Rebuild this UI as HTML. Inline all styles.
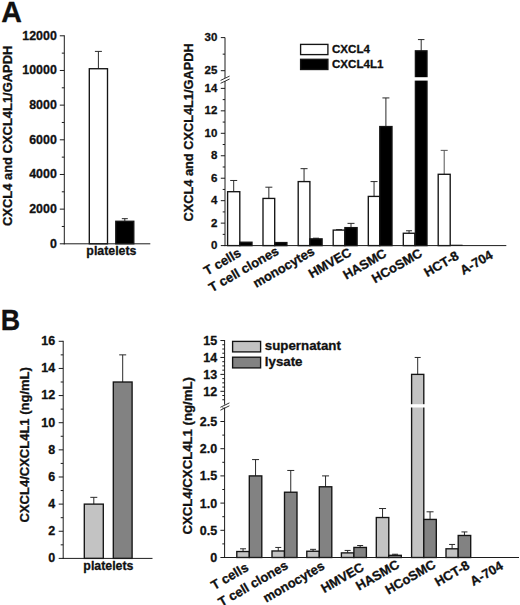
<!DOCTYPE html>
<html lang="en">
<head>
<meta charset="utf-8">
<title>CXCL4 and CXCL4L1 expression</title>
<style>
html,body{margin:0;padding:0;background:#fff;}
body{width:520px;height:605px;overflow:hidden;}
svg{display:block;}
svg text{font-family:"Liberation Sans", Arial, Helvetica, sans-serif;font-weight:bold;fill:#111;stroke:#111;stroke-width:0.3px;stroke-linejoin:round;}
</style>
</head>
<body>
<svg width="520" height="605" viewBox="0 0 520 605">
<rect x="0" y="0" width="520" height="605" fill="#ffffff"/>
<text x="1.30" y="22.20" font-size="28.6" text-anchor="start" stroke-width="0.5">A</text>
<text transform="translate(0.7 329.9) scale(0.9 1)" x="0" y="0" font-size="29.8" stroke-width="0.5">B</text>
<line x1="98.40" y1="51.40" x2="98.40" y2="68.73" stroke="#2a2a2a" stroke-width="1.0"/>
<line x1="94.90" y1="51.40" x2="101.90" y2="51.40" stroke="#2a2a2a" stroke-width="1.0"/>
<rect x="89.30" y="68.73" width="18.20" height="175.07" fill="#ffffff" stroke="#141414" stroke-width="1.35"/>
<line x1="124.80" y1="218.67" x2="124.80" y2="221.27" stroke="#2a2a2a" stroke-width="1.0"/>
<line x1="121.80" y1="218.67" x2="127.80" y2="218.67" stroke="#2a2a2a" stroke-width="1.0"/>
<rect x="115.80" y="221.27" width="18.00" height="22.53" fill="#000000" stroke="#141414" stroke-width="1.35"/>
<line x1="64.30" y1="35.30" x2="64.30" y2="244.30" stroke="#1c1c1c" stroke-width="1.0"/>
<line x1="63.80" y1="243.80" x2="150.30" y2="243.80" stroke="#1c1c1c" stroke-width="1.0"/>
<line x1="59.80" y1="243.80" x2="64.30" y2="243.80" stroke="#1c1c1c" stroke-width="1.0"/>
<text x="56.80" y="247.50" font-size="12.4" text-anchor="end">0</text>
<line x1="59.80" y1="209.13" x2="64.30" y2="209.13" stroke="#1c1c1c" stroke-width="1.0"/>
<text x="56.80" y="212.83" font-size="12.4" text-anchor="end">2000</text>
<line x1="59.80" y1="174.47" x2="64.30" y2="174.47" stroke="#1c1c1c" stroke-width="1.0"/>
<text x="56.80" y="178.17" font-size="12.4" text-anchor="end">4000</text>
<line x1="59.80" y1="139.80" x2="64.30" y2="139.80" stroke="#1c1c1c" stroke-width="1.0"/>
<text x="56.80" y="143.50" font-size="12.4" text-anchor="end">6000</text>
<line x1="59.80" y1="105.13" x2="64.30" y2="105.13" stroke="#1c1c1c" stroke-width="1.0"/>
<text x="56.80" y="108.83" font-size="12.4" text-anchor="end">8000</text>
<line x1="59.80" y1="70.47" x2="64.30" y2="70.47" stroke="#1c1c1c" stroke-width="1.0"/>
<text x="56.80" y="74.17" font-size="12.4" text-anchor="end">10000</text>
<line x1="59.80" y1="35.80" x2="64.30" y2="35.80" stroke="#1c1c1c" stroke-width="1.0"/>
<text x="56.80" y="39.50" font-size="12.4" text-anchor="end">12000</text>
<line x1="61.80" y1="226.47" x2="64.30" y2="226.47" stroke="#1c1c1c" stroke-width="1.0"/>
<line x1="61.80" y1="191.80" x2="64.30" y2="191.80" stroke="#1c1c1c" stroke-width="1.0"/>
<line x1="61.80" y1="157.13" x2="64.30" y2="157.13" stroke="#1c1c1c" stroke-width="1.0"/>
<line x1="61.80" y1="122.47" x2="64.30" y2="122.47" stroke="#1c1c1c" stroke-width="1.0"/>
<line x1="61.80" y1="87.80" x2="64.30" y2="87.80" stroke="#1c1c1c" stroke-width="1.0"/>
<line x1="61.80" y1="53.13" x2="64.30" y2="53.13" stroke="#1c1c1c" stroke-width="1.0"/>
<text x="111.40" y="254.70" font-size="12.35" text-anchor="middle">platelets</text>
<text x="12.30" y="135.80" font-size="12.95" text-anchor="middle" transform="rotate(-90 12.30 135.80)">CXCL4 and CXCL4L1/GAPDH</text>
<line x1="233.70" y1="180.47" x2="233.70" y2="191.70" stroke="#2a2a2a" stroke-width="1.0"/>
<line x1="230.20" y1="180.47" x2="237.20" y2="180.47" stroke="#2a2a2a" stroke-width="1.0"/>
<rect x="227.60" y="191.70" width="12.20" height="53.90" fill="#ffffff" stroke="#141414" stroke-width="1.35"/>
<rect x="239.80" y="242.23" width="12.20" height="3.37" fill="#000000" stroke="#141414" stroke-width="1.35"/>
<line x1="268.85" y1="187.20" x2="268.85" y2="198.43" stroke="#2a2a2a" stroke-width="1.0"/>
<line x1="265.35" y1="187.20" x2="272.35" y2="187.20" stroke="#2a2a2a" stroke-width="1.0"/>
<rect x="263.00" y="198.43" width="11.70" height="47.17" fill="#ffffff" stroke="#141414" stroke-width="1.35"/>
<rect x="274.70" y="242.57" width="12.20" height="3.03" fill="#000000" stroke="#141414" stroke-width="1.35"/>
<line x1="304.05" y1="168.67" x2="304.05" y2="181.59" stroke="#2a2a2a" stroke-width="1.0"/>
<line x1="300.55" y1="168.67" x2="307.55" y2="168.67" stroke="#2a2a2a" stroke-width="1.0"/>
<rect x="298.20" y="181.59" width="11.70" height="64.01" fill="#ffffff" stroke="#141414" stroke-width="1.35"/>
<line x1="316.00" y1="238.19" x2="316.00" y2="238.86" stroke="#2a2a2a" stroke-width="1.0"/>
<line x1="313.00" y1="238.19" x2="319.00" y2="238.19" stroke="#2a2a2a" stroke-width="1.0"/>
<rect x="309.90" y="238.86" width="12.20" height="6.74" fill="#000000" stroke="#141414" stroke-width="1.35"/>
<line x1="339.05" y1="229.65" x2="339.05" y2="230.10" stroke="#2a2a2a" stroke-width="1.0"/>
<line x1="336.05" y1="229.65" x2="342.05" y2="229.65" stroke="#2a2a2a" stroke-width="1.0"/>
<rect x="333.20" y="230.10" width="11.70" height="15.50" fill="#ffffff" stroke="#141414" stroke-width="1.35"/>
<line x1="351.00" y1="223.36" x2="351.00" y2="227.63" stroke="#2a2a2a" stroke-width="1.0"/>
<line x1="347.50" y1="223.36" x2="354.50" y2="223.36" stroke="#2a2a2a" stroke-width="1.0"/>
<rect x="344.90" y="227.63" width="12.20" height="17.97" fill="#000000" stroke="#141414" stroke-width="1.35"/>
<line x1="374.05" y1="181.59" x2="374.05" y2="196.41" stroke="#2a2a2a" stroke-width="1.0"/>
<line x1="370.55" y1="181.59" x2="377.55" y2="181.59" stroke="#2a2a2a" stroke-width="1.0"/>
<rect x="368.30" y="196.41" width="11.50" height="49.19" fill="#ffffff" stroke="#141414" stroke-width="1.35"/>
<line x1="385.90" y1="97.93" x2="385.90" y2="126.56" stroke="#2a2a2a" stroke-width="1.0"/>
<line x1="382.40" y1="97.93" x2="389.40" y2="97.93" stroke="#2a2a2a" stroke-width="1.0"/>
<rect x="379.80" y="126.56" width="12.20" height="119.04" fill="#000000" stroke="#141414" stroke-width="1.35"/>
<line x1="409.05" y1="230.78" x2="409.05" y2="233.25" stroke="#2a2a2a" stroke-width="1.0"/>
<line x1="406.05" y1="230.78" x2="412.05" y2="230.78" stroke="#2a2a2a" stroke-width="1.0"/>
<rect x="403.30" y="233.25" width="11.50" height="12.35" fill="#ffffff" stroke="#141414" stroke-width="1.35"/>
<line x1="421.20" y1="39.59" x2="421.20" y2="50.84" stroke="#2a2a2a" stroke-width="1.0"/>
<line x1="417.95" y1="39.59" x2="424.45" y2="39.59" stroke="#2a2a2a" stroke-width="1.0"/>
<rect x="415.40" y="50.84" width="11.60" height="194.76" fill="#000000" stroke="#141414" stroke-width="1.35"/>
<rect x="413.50" y="77.2" width="15.20" height="3.4" fill="#fff"/>
<line x1="444.20" y1="150.37" x2="444.20" y2="174.29" stroke="#555" stroke-width="1.0"/>
<line x1="440.70" y1="150.37" x2="447.70" y2="150.37" stroke="#555" stroke-width="1.0"/>
<rect x="438.20" y="174.29" width="12.00" height="71.31" fill="#ffffff" stroke="#141414" stroke-width="1.35"/>
<line x1="450.40" y1="245.30" x2="462.60" y2="245.30" stroke="#1c1c1c" stroke-width="1.2"/>
<line x1="225.00" y1="37.50" x2="225.00" y2="246.10" stroke="#1c1c1c" stroke-width="1.0"/>
<line x1="224.50" y1="245.60" x2="506.30" y2="245.60" stroke="#1c1c1c" stroke-width="1.0"/>
<line x1="220.80" y1="245.60" x2="225.00" y2="245.60" stroke="#1c1c1c" stroke-width="1.0"/>
<text x="217.30" y="249.00" font-size="11.5" text-anchor="end">0</text>
<line x1="220.80" y1="223.14" x2="225.00" y2="223.14" stroke="#1c1c1c" stroke-width="1.0"/>
<text x="217.30" y="226.54" font-size="11.5" text-anchor="end">2</text>
<line x1="220.80" y1="200.68" x2="225.00" y2="200.68" stroke="#1c1c1c" stroke-width="1.0"/>
<text x="217.30" y="204.08" font-size="11.5" text-anchor="end">4</text>
<line x1="220.80" y1="178.22" x2="225.00" y2="178.22" stroke="#1c1c1c" stroke-width="1.0"/>
<text x="217.30" y="181.62" font-size="11.5" text-anchor="end">6</text>
<line x1="220.80" y1="155.76" x2="225.00" y2="155.76" stroke="#1c1c1c" stroke-width="1.0"/>
<text x="217.30" y="159.16" font-size="11.5" text-anchor="end">8</text>
<line x1="220.80" y1="133.30" x2="225.00" y2="133.30" stroke="#1c1c1c" stroke-width="1.0"/>
<text x="217.30" y="136.70" font-size="11.5" text-anchor="end">10</text>
<line x1="220.80" y1="110.84" x2="225.00" y2="110.84" stroke="#1c1c1c" stroke-width="1.0"/>
<text x="217.30" y="114.24" font-size="11.5" text-anchor="end">12</text>
<line x1="220.80" y1="88.38" x2="225.00" y2="88.38" stroke="#1c1c1c" stroke-width="1.0"/>
<text x="217.30" y="91.78" font-size="11.5" text-anchor="end">14</text>
<line x1="222.70" y1="234.37" x2="225.00" y2="234.37" stroke="#1c1c1c" stroke-width="1.0"/>
<line x1="222.70" y1="211.91" x2="225.00" y2="211.91" stroke="#1c1c1c" stroke-width="1.0"/>
<line x1="222.70" y1="189.45" x2="225.00" y2="189.45" stroke="#1c1c1c" stroke-width="1.0"/>
<line x1="222.70" y1="166.99" x2="225.00" y2="166.99" stroke="#1c1c1c" stroke-width="1.0"/>
<line x1="222.70" y1="144.53" x2="225.00" y2="144.53" stroke="#1c1c1c" stroke-width="1.0"/>
<line x1="222.70" y1="122.07" x2="225.00" y2="122.07" stroke="#1c1c1c" stroke-width="1.0"/>
<line x1="222.70" y1="99.61" x2="225.00" y2="99.61" stroke="#1c1c1c" stroke-width="1.0"/>
<line x1="220.80" y1="70.70" x2="225.00" y2="70.70" stroke="#1c1c1c" stroke-width="1.0"/>
<text x="217.30" y="74.10" font-size="11.5" text-anchor="end">25</text>
<line x1="220.80" y1="37.60" x2="225.00" y2="37.60" stroke="#1c1c1c" stroke-width="1.0"/>
<text x="217.30" y="41.00" font-size="11.5" text-anchor="end">30</text>
<line x1="222.70" y1="54.15" x2="225.00" y2="54.15" stroke="#1c1c1c" stroke-width="1.0"/>
<rect x="223.0" y="78.0" width="4" height="3.0" fill="#fff"/>
<line x1="220.60" y1="80.40" x2="229.60" y2="76.10" stroke="#1c1c1c" stroke-width="0.9"/>
<line x1="220.60" y1="83.30" x2="229.60" y2="79.00" stroke="#1c1c1c" stroke-width="0.9"/>
<rect x="300.60" y="44.40" width="27.30" height="10.20" fill="#ffffff" stroke="#141414" stroke-width="1.35"/>
<rect x="300.60" y="59.30" width="27.30" height="10.20" fill="#000000" stroke="#141414" stroke-width="1.35"/>
<text x="332.00" y="53.20" font-size="11.6" text-anchor="start">CXCL4</text>
<text x="332.00" y="68.00" font-size="11.6" text-anchor="start">CXCL4L1</text>
<text x="192.60" y="132.40" font-size="12.78" text-anchor="middle" transform="rotate(-90 192.60 132.40)">CXCL4 and CXCL4L1/GAPDH</text>
<text x="242.10" y="255.50" font-size="13" text-anchor="end" transform="rotate(-30 242.10 255.50)">T cells</text>
<text x="279.70" y="253.50" font-size="13" text-anchor="end" transform="rotate(-30 279.70 253.50)">T cell clones</text>
<text x="315.60" y="253.80" font-size="13" text-anchor="end" transform="rotate(-30 315.60 253.80)">monocytes</text>
<text x="352.40" y="255.00" font-size="13" text-anchor="end" transform="rotate(-30 352.40 255.00)">HMVEC</text>
<text x="387.50" y="256.00" font-size="13" text-anchor="end" transform="rotate(-30 387.50 256.00)">HASMC</text>
<text x="423.20" y="255.70" font-size="13" text-anchor="end" transform="rotate(-30 423.20 255.70)">HCoSMC</text>
<text x="459.70" y="258.50" font-size="13" text-anchor="end" transform="rotate(-30 459.70 258.50)">HCT-8</text>
<text x="493.90" y="257.50" font-size="13" text-anchor="end" transform="rotate(-30 493.90 257.50)">A-704</text>
<line x1="93.80" y1="497.34" x2="93.80" y2="504.12" stroke="#2a2a2a" stroke-width="1.0"/>
<line x1="90.30" y1="497.34" x2="97.30" y2="497.34" stroke="#2a2a2a" stroke-width="1.0"/>
<rect x="84.30" y="504.12" width="19.00" height="54.27" fill="#c3c3c3" stroke="#141414" stroke-width="1.35"/>
<line x1="122.70" y1="354.87" x2="122.70" y2="382.01" stroke="#2a2a2a" stroke-width="1.0"/>
<line x1="119.20" y1="354.87" x2="126.20" y2="354.87" stroke="#2a2a2a" stroke-width="1.0"/>
<rect x="113.30" y="382.01" width="18.80" height="176.39" fill="#828282" stroke="#141414" stroke-width="1.35"/>
<line x1="63.20" y1="340.80" x2="63.20" y2="558.90" stroke="#1c1c1c" stroke-width="1.0"/>
<line x1="62.70" y1="558.40" x2="152.50" y2="558.40" stroke="#1c1c1c" stroke-width="1.0"/>
<line x1="58.70" y1="558.40" x2="63.20" y2="558.40" stroke="#1c1c1c" stroke-width="1.0"/>
<text x="55.20" y="562.30" font-size="12.5" text-anchor="end">0</text>
<line x1="58.70" y1="531.26" x2="63.20" y2="531.26" stroke="#1c1c1c" stroke-width="1.0"/>
<text x="55.20" y="535.16" font-size="12.5" text-anchor="end">2</text>
<line x1="58.70" y1="504.12" x2="63.20" y2="504.12" stroke="#1c1c1c" stroke-width="1.0"/>
<text x="55.20" y="508.02" font-size="12.5" text-anchor="end">4</text>
<line x1="58.70" y1="476.99" x2="63.20" y2="476.99" stroke="#1c1c1c" stroke-width="1.0"/>
<text x="55.20" y="480.89" font-size="12.5" text-anchor="end">6</text>
<line x1="58.70" y1="449.85" x2="63.20" y2="449.85" stroke="#1c1c1c" stroke-width="1.0"/>
<text x="55.20" y="453.75" font-size="12.5" text-anchor="end">8</text>
<line x1="58.70" y1="422.71" x2="63.20" y2="422.71" stroke="#1c1c1c" stroke-width="1.0"/>
<text x="55.20" y="426.61" font-size="12.5" text-anchor="end">10</text>
<line x1="58.70" y1="395.57" x2="63.20" y2="395.57" stroke="#1c1c1c" stroke-width="1.0"/>
<text x="55.20" y="399.47" font-size="12.5" text-anchor="end">12</text>
<line x1="58.70" y1="368.44" x2="63.20" y2="368.44" stroke="#1c1c1c" stroke-width="1.0"/>
<text x="55.20" y="372.34" font-size="12.5" text-anchor="end">14</text>
<line x1="58.70" y1="341.30" x2="63.20" y2="341.30" stroke="#1c1c1c" stroke-width="1.0"/>
<text x="55.20" y="345.20" font-size="12.5" text-anchor="end">16</text>
<line x1="60.70" y1="544.83" x2="63.20" y2="544.83" stroke="#1c1c1c" stroke-width="1.0"/>
<line x1="60.70" y1="517.69" x2="63.20" y2="517.69" stroke="#1c1c1c" stroke-width="1.0"/>
<line x1="60.70" y1="490.56" x2="63.20" y2="490.56" stroke="#1c1c1c" stroke-width="1.0"/>
<line x1="60.70" y1="463.42" x2="63.20" y2="463.42" stroke="#1c1c1c" stroke-width="1.0"/>
<line x1="60.70" y1="436.28" x2="63.20" y2="436.28" stroke="#1c1c1c" stroke-width="1.0"/>
<line x1="60.70" y1="409.14" x2="63.20" y2="409.14" stroke="#1c1c1c" stroke-width="1.0"/>
<line x1="60.70" y1="382.01" x2="63.20" y2="382.01" stroke="#1c1c1c" stroke-width="1.0"/>
<line x1="60.70" y1="354.87" x2="63.20" y2="354.87" stroke="#1c1c1c" stroke-width="1.0"/>
<text x="108.40" y="569.70" font-size="12.35" text-anchor="middle">platelets</text>
<text x="29.50" y="444.80" font-size="13" text-anchor="middle" transform="rotate(-90 29.50 444.80)">CXCL4/CXCL4L1 (ng/mL)</text>
<line x1="243.05" y1="548.80" x2="243.05" y2="551.52" stroke="#2a2a2a" stroke-width="1.0"/>
<line x1="240.05" y1="548.80" x2="246.05" y2="548.80" stroke="#2a2a2a" stroke-width="1.0"/>
<rect x="236.80" y="551.52" width="12.50" height="5.98" fill="#c3c3c3" stroke="#141414" stroke-width="1.35"/>
<line x1="255.55" y1="459.58" x2="255.55" y2="475.90" stroke="#2a2a2a" stroke-width="1.0"/>
<line x1="252.05" y1="459.58" x2="259.05" y2="459.58" stroke="#2a2a2a" stroke-width="1.0"/>
<rect x="249.30" y="475.90" width="12.50" height="81.60" fill="#828282" stroke="#141414" stroke-width="1.35"/>
<line x1="278.25" y1="547.44" x2="278.25" y2="550.97" stroke="#2a2a2a" stroke-width="1.0"/>
<line x1="275.25" y1="547.44" x2="281.25" y2="547.44" stroke="#2a2a2a" stroke-width="1.0"/>
<rect x="272.00" y="550.97" width="12.50" height="6.53" fill="#c3c3c3" stroke="#141414" stroke-width="1.35"/>
<line x1="290.75" y1="470.46" x2="290.75" y2="492.22" stroke="#2a2a2a" stroke-width="1.0"/>
<line x1="287.25" y1="470.46" x2="294.25" y2="470.46" stroke="#2a2a2a" stroke-width="1.0"/>
<rect x="284.50" y="492.22" width="12.50" height="65.28" fill="#828282" stroke="#141414" stroke-width="1.35"/>
<line x1="313.05" y1="549.34" x2="313.05" y2="551.24" stroke="#2a2a2a" stroke-width="1.0"/>
<line x1="310.05" y1="549.34" x2="316.05" y2="549.34" stroke="#2a2a2a" stroke-width="1.0"/>
<rect x="306.80" y="551.24" width="12.50" height="6.26" fill="#c3c3c3" stroke="#141414" stroke-width="1.35"/>
<line x1="325.55" y1="475.90" x2="325.55" y2="486.78" stroke="#2a2a2a" stroke-width="1.0"/>
<line x1="322.05" y1="475.90" x2="329.05" y2="475.90" stroke="#2a2a2a" stroke-width="1.0"/>
<rect x="319.30" y="486.78" width="12.50" height="70.72" fill="#828282" stroke="#141414" stroke-width="1.35"/>
<line x1="347.65" y1="550.43" x2="347.65" y2="552.88" stroke="#2a2a2a" stroke-width="1.0"/>
<line x1="344.65" y1="550.43" x2="350.65" y2="550.43" stroke="#2a2a2a" stroke-width="1.0"/>
<rect x="341.40" y="552.88" width="12.50" height="4.62" fill="#c3c3c3" stroke="#141414" stroke-width="1.35"/>
<line x1="360.15" y1="545.53" x2="360.15" y2="547.44" stroke="#2a2a2a" stroke-width="1.0"/>
<line x1="357.15" y1="545.53" x2="363.15" y2="545.53" stroke="#2a2a2a" stroke-width="1.0"/>
<rect x="353.90" y="547.44" width="12.50" height="10.06" fill="#828282" stroke="#141414" stroke-width="1.35"/>
<line x1="382.55" y1="508.54" x2="382.55" y2="517.52" stroke="#2a2a2a" stroke-width="1.0"/>
<line x1="379.05" y1="508.54" x2="386.05" y2="508.54" stroke="#2a2a2a" stroke-width="1.0"/>
<rect x="376.30" y="517.52" width="12.50" height="39.98" fill="#c3c3c3" stroke="#141414" stroke-width="1.35"/>
<line x1="395.05" y1="554.24" x2="395.05" y2="555.32" stroke="#2a2a2a" stroke-width="1.0"/>
<line x1="392.05" y1="554.24" x2="398.05" y2="554.24" stroke="#2a2a2a" stroke-width="1.0"/>
<rect x="388.80" y="555.32" width="12.50" height="2.18" fill="#828282" stroke="#141414" stroke-width="1.35"/>
<line x1="417.70" y1="357.46" x2="417.70" y2="374.38" stroke="#2a2a2a" stroke-width="1.0"/>
<line x1="414.70" y1="357.46" x2="420.70" y2="357.46" stroke="#2a2a2a" stroke-width="1.0"/>
<rect x="411.60" y="374.38" width="12.20" height="183.12" fill="#c3c3c3" stroke="#141414" stroke-width="1.35"/>
<rect x="410.10" y="404.2" width="15.50" height="3.3" fill="#fff"/>
<line x1="430.05" y1="511.80" x2="430.05" y2="519.42" stroke="#2a2a2a" stroke-width="1.0"/>
<line x1="426.55" y1="511.80" x2="433.55" y2="511.80" stroke="#2a2a2a" stroke-width="1.0"/>
<rect x="423.80" y="519.42" width="12.50" height="38.08" fill="#828282" stroke="#141414" stroke-width="1.35"/>
<line x1="452.10" y1="544.44" x2="452.10" y2="548.80" stroke="#2a2a2a" stroke-width="1.0"/>
<line x1="449.10" y1="544.44" x2="455.10" y2="544.44" stroke="#2a2a2a" stroke-width="1.0"/>
<rect x="446.00" y="548.80" width="12.20" height="8.70" fill="#c3c3c3" stroke="#141414" stroke-width="1.35"/>
<line x1="464.45" y1="531.93" x2="464.45" y2="535.47" stroke="#2a2a2a" stroke-width="1.0"/>
<line x1="461.45" y1="531.93" x2="467.45" y2="531.93" stroke="#2a2a2a" stroke-width="1.0"/>
<rect x="458.20" y="535.47" width="12.50" height="22.03" fill="#828282" stroke="#141414" stroke-width="1.35"/>
<line x1="224.60" y1="340.00" x2="224.60" y2="558.00" stroke="#1c1c1c" stroke-width="1.0"/>
<line x1="224.10" y1="557.50" x2="519.00" y2="557.50" stroke="#1c1c1c" stroke-width="1.0"/>
<line x1="220.40" y1="557.50" x2="224.60" y2="557.50" stroke="#1c1c1c" stroke-width="1.0"/>
<text x="217.20" y="561.90" font-size="12.5" text-anchor="end">0</text>
<line x1="220.40" y1="530.30" x2="224.60" y2="530.30" stroke="#1c1c1c" stroke-width="1.0"/>
<text x="217.20" y="534.70" font-size="12.5" text-anchor="end">0.5</text>
<line x1="220.40" y1="503.10" x2="224.60" y2="503.10" stroke="#1c1c1c" stroke-width="1.0"/>
<text x="217.20" y="507.50" font-size="12.5" text-anchor="end">1.0</text>
<line x1="220.40" y1="475.90" x2="224.60" y2="475.90" stroke="#1c1c1c" stroke-width="1.0"/>
<text x="217.20" y="480.30" font-size="12.5" text-anchor="end">1.5</text>
<line x1="220.40" y1="448.70" x2="224.60" y2="448.70" stroke="#1c1c1c" stroke-width="1.0"/>
<text x="217.20" y="453.10" font-size="12.5" text-anchor="end">2.0</text>
<line x1="220.40" y1="421.50" x2="224.60" y2="421.50" stroke="#1c1c1c" stroke-width="1.0"/>
<text x="217.20" y="425.90" font-size="12.5" text-anchor="end">2.5</text>
<line x1="222.30" y1="543.90" x2="224.60" y2="543.90" stroke="#1c1c1c" stroke-width="1.0"/>
<line x1="222.30" y1="516.70" x2="224.60" y2="516.70" stroke="#1c1c1c" stroke-width="1.0"/>
<line x1="222.30" y1="489.50" x2="224.60" y2="489.50" stroke="#1c1c1c" stroke-width="1.0"/>
<line x1="222.30" y1="462.30" x2="224.60" y2="462.30" stroke="#1c1c1c" stroke-width="1.0"/>
<line x1="222.30" y1="435.10" x2="224.60" y2="435.10" stroke="#1c1c1c" stroke-width="1.0"/>
<line x1="222.30" y1="407.90" x2="224.60" y2="407.90" stroke="#1c1c1c" stroke-width="1.0"/>
<line x1="220.40" y1="391.30" x2="224.60" y2="391.30" stroke="#1c1c1c" stroke-width="1.0"/>
<text x="217.20" y="395.70" font-size="12.5" text-anchor="end">12</text>
<line x1="220.40" y1="374.38" x2="224.60" y2="374.38" stroke="#1c1c1c" stroke-width="1.0"/>
<text x="217.20" y="378.78" font-size="12.5" text-anchor="end">13</text>
<line x1="220.40" y1="357.46" x2="224.60" y2="357.46" stroke="#1c1c1c" stroke-width="1.0"/>
<text x="217.20" y="361.86" font-size="12.5" text-anchor="end">14</text>
<line x1="220.40" y1="340.54" x2="224.60" y2="340.54" stroke="#1c1c1c" stroke-width="1.0"/>
<text x="217.20" y="344.94" font-size="12.5" text-anchor="end">15</text>
<line x1="222.30" y1="399.76" x2="224.60" y2="399.76" stroke="#1c1c1c" stroke-width="1.0"/>
<line x1="222.30" y1="395.53" x2="224.60" y2="395.53" stroke="#1c1c1c" stroke-width="1.0"/>
<line x1="222.30" y1="387.07" x2="224.60" y2="387.07" stroke="#1c1c1c" stroke-width="1.0"/>
<line x1="222.30" y1="382.84" x2="224.60" y2="382.84" stroke="#1c1c1c" stroke-width="1.0"/>
<line x1="222.30" y1="378.61" x2="224.60" y2="378.61" stroke="#1c1c1c" stroke-width="1.0"/>
<line x1="222.30" y1="370.15" x2="224.60" y2="370.15" stroke="#1c1c1c" stroke-width="1.0"/>
<line x1="222.30" y1="365.92" x2="224.60" y2="365.92" stroke="#1c1c1c" stroke-width="1.0"/>
<line x1="222.30" y1="361.69" x2="224.60" y2="361.69" stroke="#1c1c1c" stroke-width="1.0"/>
<line x1="222.30" y1="353.23" x2="224.60" y2="353.23" stroke="#1c1c1c" stroke-width="1.0"/>
<line x1="222.30" y1="349.00" x2="224.60" y2="349.00" stroke="#1c1c1c" stroke-width="1.0"/>
<line x1="222.30" y1="344.77" x2="224.60" y2="344.77" stroke="#1c1c1c" stroke-width="1.0"/>
<rect x="222.6" y="404.6" width="4" height="3.0" fill="#fff"/>
<line x1="220.40" y1="407.30" x2="229.40" y2="402.90" stroke="#1c1c1c" stroke-width="0.9"/>
<line x1="220.40" y1="410.20" x2="229.40" y2="405.80" stroke="#1c1c1c" stroke-width="0.9"/>
<rect x="232.60" y="341.40" width="28.00" height="10.50" fill="#c3c3c3" stroke="#141414" stroke-width="1.35"/>
<rect x="232.60" y="357.20" width="28.00" height="10.70" fill="#828282" stroke="#141414" stroke-width="1.35"/>
<text x="264.80" y="350.30" font-size="13.3" text-anchor="start">supernatant</text>
<text x="264.80" y="365.60" font-size="13.3" text-anchor="start">lysate</text>
<text x="192.00" y="455.80" font-size="13.2" text-anchor="middle" transform="rotate(-90 192.00 455.80)">CXCL4/CXCL4L1 (ng/mL)</text>
<text x="249.40" y="570.00" font-size="13" text-anchor="end" transform="rotate(-30 249.40 570.00)">T cells</text>
<text x="289.00" y="568.00" font-size="13" text-anchor="end" transform="rotate(-30 289.00 568.00)">T cell clones</text>
<text x="325.60" y="568.50" font-size="13" text-anchor="end" transform="rotate(-30 325.60 568.50)">monocytes</text>
<text x="364.90" y="569.70" font-size="13" text-anchor="end" transform="rotate(-30 364.90 569.70)">HMVEC</text>
<text x="400.30" y="567.00" font-size="13" text-anchor="end" transform="rotate(-30 400.30 567.00)">HASMC</text>
<text x="436.60" y="567.00" font-size="13" text-anchor="end" transform="rotate(-30 436.60 567.00)">HCoSMC</text>
<text x="470.50" y="568.00" font-size="13" text-anchor="end" transform="rotate(-30 470.50 568.00)">HCT-8</text>
<text x="504.00" y="568.50" font-size="13" text-anchor="end" transform="rotate(-30 504.00 568.50)">A-704</text>
</svg>
</body>
</html>
